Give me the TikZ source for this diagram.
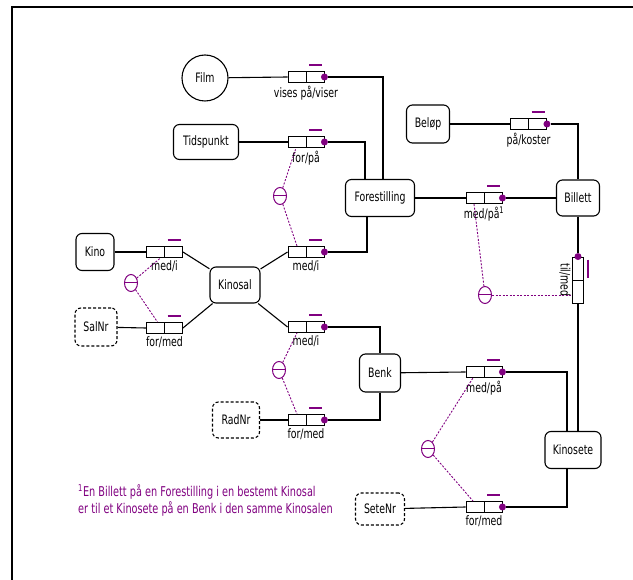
\documentclass[tikz,border=0pt]{standalone}
\usepackage{fontspec}
\setmainfont{DejaVu Sans}[FakeStretch=0.72]
\usetikzlibrary{shapes.geometric}
\definecolor{orm}{RGB}{128,0,128}
\begin{document}
\begin{tikzpicture}[x=1pt,y=-1pt,
  font=\fontsize{13}{17}\selectfont,
  every node/.style={inner sep=0pt},
  ent/.style={draw, line width=1.1pt, rounded corners=6pt},
  valtype/.style={ent, dash pattern=on 3pt off 2pt},
  fact/.style={draw, line width=0.9pt, fill=white, minimum width=36pt, minimum height=11pt,
    path picture={\draw[line width=0.9pt] (path picture bounding box.north) -- (path picture bounding box.south);}},
  vfact/.style={draw, line width=0.9pt, fill=white, minimum width=11pt, minimum height=46pt,
    path picture={\draw[line width=0.9pt] (path picture bounding box.west) -- (path picture bounding box.east);}},
  rolelab/.style={label distance=2.5pt},
  dot/.style={circle, fill=orm, minimum size=7pt},
  conn/.style={line width=1.1pt},
  bar/.style={draw=orm, line width=1.4pt},
  xcons/.style={draw=orm, line width=1pt, ellipse, minimum width=13pt, minimum height=17pt,
    path picture={\draw[orm, line width=1pt] (path picture bounding box.west) -- (path picture bounding box.east);}},
  cline/.style={orm, line width=0.9pt, dash pattern=on 2pt off 1.5pt}
]
\useasboundingbox (0,0) rectangle (633,580);
% outer frame
\draw[line width=1.5pt] (12,580) -- (12,7) -- (633,7);

% entity and value types
\node[draw, circle, line width=1.1pt, minimum size=46pt] (Film) at (205,78) {Film};
\node[ent, minimum width=65pt, minimum height=35pt] (Tidspunkt) at (206,142) {Tidspunkt};
\node[ent, minimum width=69pt, minimum height=37pt] (Forestilling) at (380,198) {Forestilling};
\node[ent, minimum width=38pt, minimum height=37pt] (Kino) at (95,252) {Kino};
\node[valtype, minimum width=42pt, minimum height=38pt] (SalNr) at (96,327) {SalNr};
\node[ent, minimum width=50pt, minimum height=36pt] (Kinosal) at (235,285) {Kinosal};
\node[ent, minimum width=41pt, minimum height=38pt] (Benk) at (380,373) {Benk};
\node[valtype, minimum width=47pt, minimum height=36pt] (RadNr) at (236,420) {RadNr};
\node[ent, minimum width=43pt, minimum height=38pt] (Belop) at (428,124) {Beløp};
\node[ent, minimum width=43pt, minimum height=36pt] (Billett) at (578,198) {Billett};
\node[ent, minimum width=56pt, minimum height=37pt] (Kinosete) at (573,450) {Kinosete};
\node[valtype, minimum width=49pt, minimum height=32pt] (SeteNr) at (380,509) {SeteNr};

% fact types
\node[fact, label={[rolelab]below:vises på/viser}] (fVises) at (306,77) {};
\node[fact, label={[rolelab]below:for/på}] (fTid) at (306,142) {};
\node[fact, label={[rolelab]below:med/i}] (fFmed) at (306,252) {};
\node[fact, label={[rolelab]below:med/i}] (fKino) at (164.5,252) {};
\node[fact, label={[rolelab]below:for/med}] (fSal) at (164.5,328) {};
\node[fact, label={[rolelab]below:med/i}] (fBenk) at (306,327) {};
\node[fact, label={[rolelab]below:for/med}] (fRad) at (306,420) {};
\node[fact, label={[rolelab]below:på/koster}] (fBel) at (528.5,124) {};
\node[fact, label={[rolelab]below:med/på\textsuperscript{1}}] (fBil) at (484,198) {};
\node[fact, label={[rolelab]below:med/på}] (fBenkSete) at (484,372) {};
\node[fact, label={[rolelab]below:for/med}] (fSete) at (484,507) {};
\node[vfact] (fTil) at (578,280) {};
\node[rotate=-90] (lTil) at ([xshift=-13pt]fTil.center) {til/med};

% uniqueness bars
\foreach \f in {fVises,fTid,fFmed,fKino,fSal,fBenk,fRad,fBel,fBil,fBenkSete,fSete}
  \draw[bar] ([xshift=3pt,yshift=6pt]\f.north) -- ([xshift=16pt,yshift=6pt]\f.north);
\draw[bar] ([xshift=4pt,yshift=-3pt]fTil.north east) -- ([xshift=4pt,yshift=-21pt]fTil.north east);

% mandatory role dots
\node[dot] (dVises) at (fVises.east) {};
\node[dot] (dTid) at (fTid.east) {};
\node[dot] (dFmed) at (fFmed.east) {};
\node[dot] (dBenk) at (fBenk.east) {};
\node[dot] (dRad) at (fRad.east) {};
\node[dot] (dBel) at (fBel.east) {};
\node[dot] (dBil) at (fBil.east) {};
\node[dot] (dBenkSete) at (fBenkSete.east) {};
\node[dot] (dSete) at (fSete.east) {};
\node[dot] (dTil) at (fTil.north) {};

% role connectors
\draw[conn] (Film) -- (fVises.west);
\draw[conn] (dVises) -| ([xshift=3pt]Forestilling.north);
\draw[conn] (Tidspunkt) -- (fTid.west);
\draw[conn] (dTid) -| ([xshift=-15pt]Forestilling.north);
\draw[conn] ([xshift=-13pt]Forestilling.south) |- (dFmed);
\draw[conn] (fFmed.west) -- (Kinosal);
\draw[conn] (Kino) -- (fKino.west);
\draw[conn] (fKino.east) -- (Kinosal);
\draw[conn] (SalNr) -- (fSal.west);
\draw[conn] (fSal.east) -- (Kinosal);
\draw[conn] (fBenk.west) -- (Kinosal);
\draw[conn] (dBenk) -| (Benk.north);
\draw[conn] (Benk.south) |- (dRad);
\draw[conn] (RadNr) -- (fRad.west);
\draw[conn] (Forestilling) -- (fBil.west);
\draw[conn] (dBil) -- (Billett);
\draw[conn] (Belop) -- (fBel.west);
\draw[conn] (dBel) -| (Billett.north);
\draw[conn] (Billett.south) -- (dTil);
\draw[conn] (fTil.south) -- ([xshift=5pt]Kinosete.north);
\draw[conn] (Benk) -- (fBenkSete.west);
\draw[conn] (dBenkSete) -| ([xshift=-6pt]Kinosete.north);
\draw[conn] ([xshift=-6pt]Kinosete.south) |- (dSete);
\draw[conn] (SeteNr) -- (fSete.west);

% external uniqueness constraints
\node[xcons] (c1) at (131,283) {};
\node[xcons] (c2) at (280,196) {};
\node[xcons] (c3) at (279,370) {};
\node[xcons] (c4) at (428,449) {};
\node[xcons] (c5) at (485,295) {};
\draw[cline] (c1) -- ([xshift=-4pt]fKino.south);
\draw[cline] (c1) -- ([xshift=-7pt]fSal.north);
\draw[cline] (c2) -- ([xshift=-10pt]fTid.south);
\draw[cline] (c2) -- ([xshift=-9pt]fFmed.north);
\draw[cline] (c3) -- ([xshift=-9pt]fBenk.south);
\draw[cline] (c3) -- ([xshift=-9pt]fRad.north);
\draw[cline] (c4) -- ([xshift=-11pt]fBenkSete.south);
\draw[cline] (c4) -- ([xshift=-11pt]fSete.north);
\draw[cline] (c5) -- ([xshift=-10pt]fBil.south);
\draw[cline] (c5) -- ([yshift=-15pt]fTil.west);

% footnote
\node[orm, anchor=north west, align=left, font=\fontsize{13.5}{17}\selectfont] (note) at (78,484)
  {\textsuperscript{1}En Billett på en Forestilling i en bestemt Kinosal\\
   er til et Kinosete på en Benk i den samme Kinosalen};
\end{tikzpicture}
\end{document}
